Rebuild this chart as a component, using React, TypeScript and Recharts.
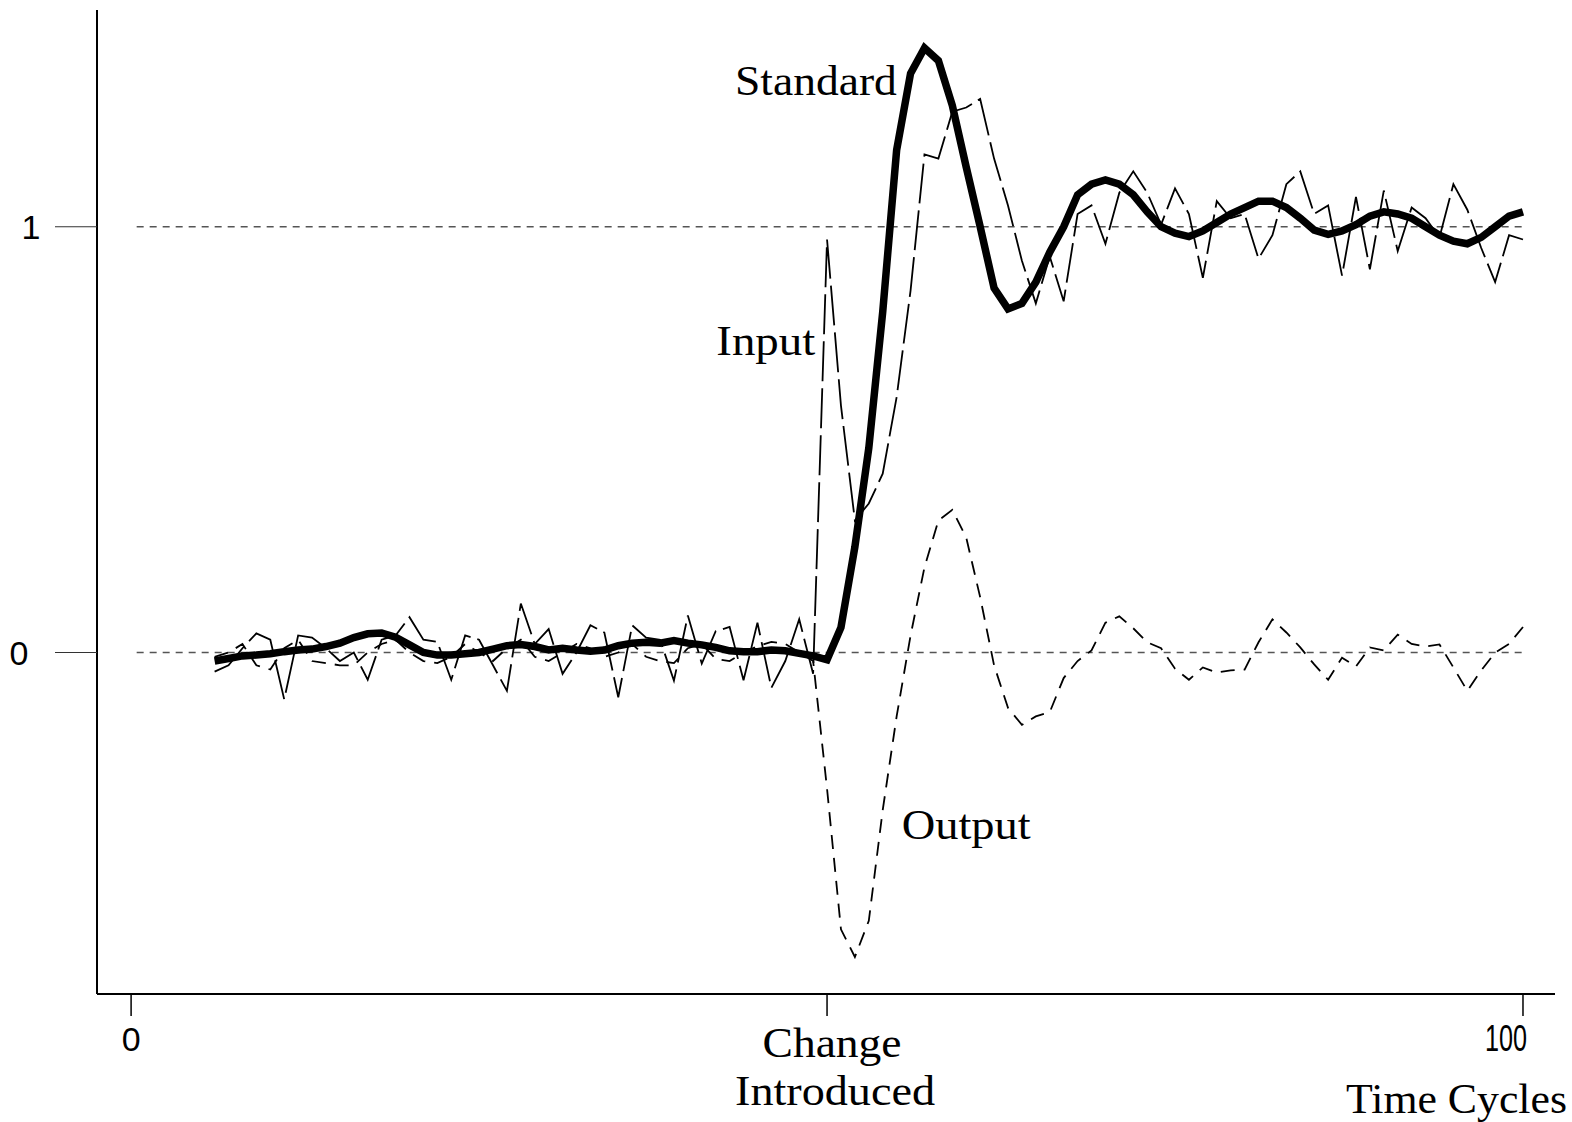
import React, { useLayoutEffect } from "react";
import { LineChart, Line, XAxis, YAxis, ReferenceLine, ReferenceDot } from "recharts";

// time cycle of each sample
const cycles = [
  6, 7, 8, 9, 10, 11, 12, 13, 14, 15,
  16, 17, 18, 19, 20, 21, 22, 23, 24, 25,
  26, 27, 28, 29, 30, 31, 32, 33, 34, 35,
  36, 37, 38, 39, 40, 41, 42, 43, 44, 45,
  46, 47, 48, 49, 50, 51, 52, 53, 54, 55,
  56, 57, 58, 59, 60, 61, 62, 63, 64, 65,
  66, 67, 68, 69, 70, 71, 72, 73, 74, 75,
  76, 77, 78, 79, 80, 81, 82, 83, 84, 85,
  86, 87, 88, 89, 90, 91, 92, 93, 94, 95,
  96, 97, 98, 99, 100,
];

const standard = [
  -0.02, -0.014, -0.008, -0.006, -0.003, 0.002, 0.006, 0.008, 0.014, 0.022,
  0.035, 0.044, 0.046, 0.036, 0.018, 0.0, -0.006, -0.006, -0.003, 0.0,
  0.008, 0.016, 0.019, 0.014, 0.006, 0.01, 0.006, 0.003, 0.006, 0.016,
  0.022, 0.024, 0.022, 0.028, 0.022, 0.018, 0.012, 0.004, 0.002, 0.002,
  0.006, 0.004, -0.002, -0.008, -0.017, 0.059, 0.248, 0.48, 0.8, 1.18,
  1.36, 1.42, 1.39, 1.285, 1.14, 1.0, 0.856, 0.807, 0.82, 0.87,
  0.94, 1.0, 1.075, 1.1, 1.11, 1.1, 1.075, 1.035, 1.0, 0.985,
  0.977, 0.99, 1.01, 1.03, 1.045, 1.06, 1.06, 1.045, 1.02, 0.992,
  0.982, 0.99, 1.005, 1.025, 1.035, 1.03, 1.02, 1.0, 0.98, 0.966,
  0.96, 0.975, 1.0, 1.025, 1.035,
];

const input = [
  -0.045, -0.03, 0.01, 0.045, 0.03, -0.11, 0.04, 0.035, 0.01, -0.02,
  0.0, -0.064, 0.03, 0.04, 0.083, 0.03, 0.025, -0.064, 0.04, 0.03,
  -0.03, -0.09, 0.115, 0.02, 0.055, -0.05, 0.0, 0.064, 0.047, -0.105,
  0.064, 0.035, 0.03, -0.066, 0.087, -0.026, 0.05, 0.06, -0.065, 0.07,
  -0.083, -0.02, 0.078, -0.05, 0.97, 0.58, 0.31, 0.35, 0.42, 0.6,
  0.85, 1.17, 1.16, 1.27, 1.28, 1.3, 1.16, 1.05, 0.92, 0.82,
  0.93, 0.825, 1.03, 1.05, 0.96, 1.08, 1.13, 1.08, 1.005, 1.09,
  1.03, 0.88, 1.06, 1.02, 1.03, 0.925, 0.98, 1.1, 1.13, 1.03,
  1.05, 0.885, 1.07, 0.9, 1.085, 0.943, 1.045, 1.02, 0.975, 1.1,
  1.04, 0.95, 0.87, 0.98, 0.97,
];

const output = [
  -0.01, 0.0, 0.02, -0.03, -0.04, 0.01, 0.03, -0.02, -0.025, -0.03,
  -0.03, 0.0, 0.02, 0.03, 0.0, -0.02, -0.025, -0.01, 0.02, 0.0,
  -0.02, 0.01, 0.03, -0.01, -0.02, 0.0, 0.02, 0.01, -0.01, 0.0,
  0.02, -0.01, -0.02, -0.025, 0.01, 0.02, -0.015, -0.02, 0.0, 0.015,
  0.025, 0.02, 0.0, -0.02, -0.32, -0.65, -0.715, -0.63, -0.37, -0.15,
  0.04, 0.2, 0.31, 0.335, 0.27, 0.13, -0.03, -0.13, -0.17, -0.15,
  -0.14, -0.06, -0.02, 0.005, 0.07, 0.085, 0.057, 0.024, 0.01, -0.038,
  -0.064, -0.035, -0.047, -0.042, -0.04, 0.024, 0.078, 0.047, 0.012, -0.028,
  -0.064, -0.012, -0.033, 0.012, 0.005, 0.042, 0.02, 0.014, 0.019, -0.035,
  -0.09, -0.042, 0.0, 0.02, 0.06,
];

const xTicks = [0, 50, 100];
const yTicks = [0, 1];
const guideLevels = [0, 1];
const guideSpan = [0.4, 100.3];
const axisTitle = "Time Cycles";

// where each series name is written (data coordinates of the text baseline centre)
const seriesNotes = [
  { text: "Standard", x: 49.2, y: 1.309, len: 162 },
  { text: "Input", x: 45.6, y: 0.698, len: 99 },
  { text: "Output", x: 60.0, y: -0.439, len: 129 },
];

const rows = cycles.map((t, i) => ({
  t,
  standard: standard[i],
  input: input[i],
  output: output[i],
}));

const SERIF = "'Liberation Serif', 'Times New Roman', serif";
const SANS = "'Liberation Sans', Arial, sans-serif";

function SerifText(props: any) {
  const { x, y, len, anchor = "middle", children } = props;
  return (
    <text
      x={x}
      y={y}
      textAnchor={anchor}
      fontFamily={SERIF}
      fontSize={43}
      textLength={len}
      lengthAdjust="spacingAndGlyphs"
      fill="#000"
    >
      {children}
    </text>
  );
}

function XTick(props: any) {
  const { x, y, payload } = props;
  const v = payload.value;
  if (v === 50) {
    return (
      <g>
        <SerifText x={x + 5} y={y + 39} len={139}>
          Change
        </SerifText>
        <SerifText x={x + 8} y={y + 87} len={200}>
          Introduced
        </SerifText>
      </g>
    );
  }
  if (v === 100) {
    return (
      <text
        x={x - 17}
        y={y + 33}
        textAnchor="middle"
        fontFamily={SANS}
        fontSize={37}
        textLength={42}
        lengthAdjust="spacingAndGlyphs"
        fill="#000"
      >
        100
      </text>
    );
  }
  return (
    <text x={x} y={y + 33} textAnchor="middle" fontFamily={SANS} fontSize={34} fill="#000">
      {String(v)}
    </text>
  );
}

function YTick(props: any) {
  const { x, y, payload } = props;
  const shift = payload.value === 1 ? 22 : 34;
  return (
    <text x={x - shift} y={y + 12} textAnchor="middle" fontFamily={SANS} fontSize={34} fill="#000">
      {String(payload.value)}
    </text>
  );
}

export default function App() {
  // draw from the page corner so the picture keeps its slack inside the window
  useLayoutEffect(() => {
    document.body.style.margin = "0";
  }, []);

  return (
    <div style={{ width: 1570, height: 1122, overflow: "hidden" }}>
      <LineChart
        width={1570}
        height={1122}
        data={rows}
        margin={{ top: 10, right: 15, left: 0, bottom: 0 }}
      >
        <XAxis
          dataKey="t"
          type="number"
          domain={[-2.45, 102.3]}
          allowDataOverflow
          ticks={xTicks}
          height={128}
          tickSize={22}
          tick={(p: any) => <XTick {...p} />}
          tickLine={{ stroke: "#000", strokeWidth: 1.5 }}
          axisLine={{ stroke: "#000", strokeWidth: 2 }}
          label={(p: any) => {
            const vb = p.viewBox;
            return (
              <SerifText x={vb.x + vb.width + 12} y={vb.y + 119} len={221} anchor="end">
                {axisTitle}
              </SerifText>
            );
          }}
        />
        <YAxis
          type="number"
          domain={[-0.802, 1.509]}
          allowDataOverflow
          ticks={yTicks}
          width={97}
          tickSize={42}
          tick={(p: any) => <YTick {...p} />}
          tickLine={{ stroke: "#333", strokeWidth: 1.2 }}
          axisLine={{ stroke: "#000", strokeWidth: 2 }}
        />
        {guideLevels.map((lvl) => (
          <ReferenceLine
            key={lvl}
            segment={[
              { x: guideSpan[0], y: lvl },
              { x: guideSpan[1], y: lvl },
            ]}
            stroke="#555"
            strokeWidth={1.5}
            strokeDasharray="7 6"
          />
        ))}
        <Line
          type="linear"
          dataKey="output"
          stroke="#000"
          strokeWidth={1.8}
          strokeDasharray="14 9"
          dot={false}
          activeDot={false}
          isAnimationActive={false}
        />
        <Line
          type="linear"
          dataKey="input"
          stroke="#000"
          strokeWidth={1.8}
          strokeDasharray="40 7"
          dot={false}
          activeDot={false}
          isAnimationActive={false}
        />
        <Line
          type="linear"
          dataKey="standard"
          stroke="#000"
          strokeWidth={7.5}
          dot={false}
          activeDot={false}
          isAnimationActive={false}
        />
        {seriesNotes.map((n) => (
          <ReferenceDot
            key={n.text}
            x={n.x}
            y={n.y}
            r={1}
            fill="none"
            stroke="none"
            label={(p: any) => {
              const vb = p.viewBox;
              return (
                <SerifText x={vb.x + vb.width / 2} y={vb.y + vb.height / 2} len={n.len}>
                  {n.text}
                </SerifText>
              );
            }}
          />
        ))}
      </LineChart>
    </div>
  );
}
